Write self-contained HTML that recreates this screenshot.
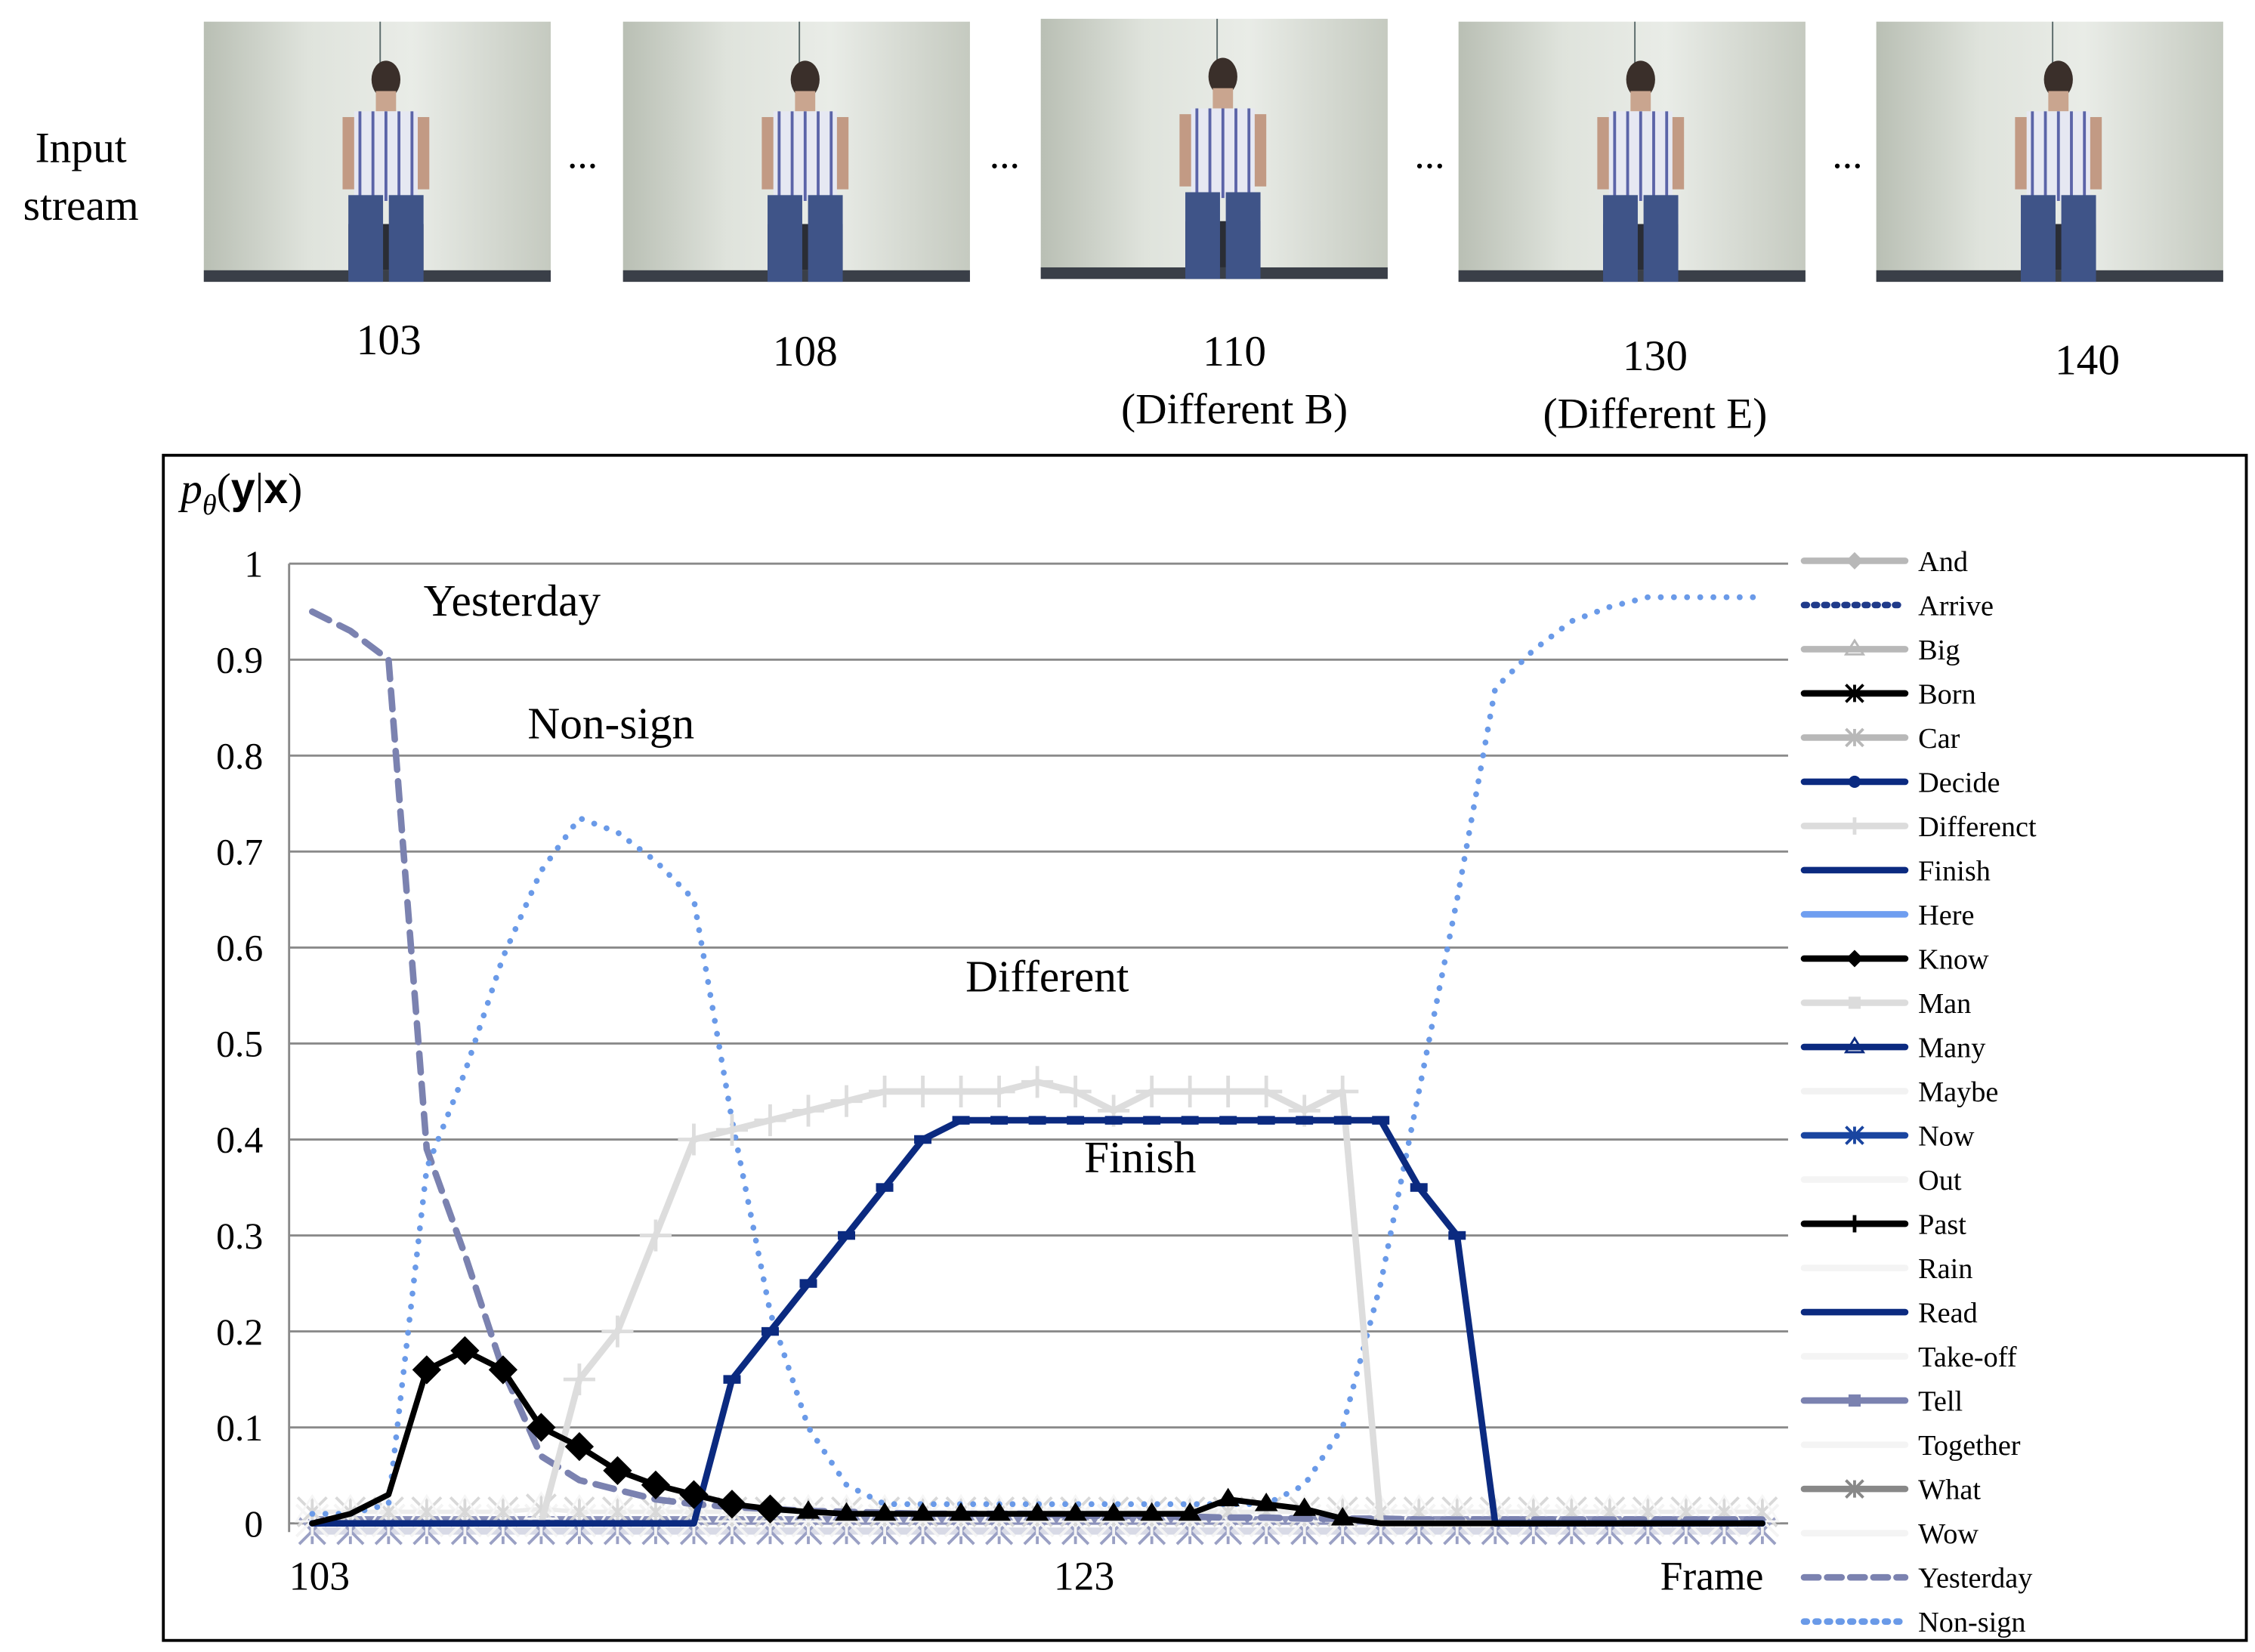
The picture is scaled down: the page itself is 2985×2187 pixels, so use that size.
<!DOCTYPE html>
<html><head><meta charset="utf-8"><style>
html,body{margin:0;padding:0;background:#fff}
svg{display:block}
text{font-family:"Liberation Serif",serif;fill:#000}
</style></head><body>
<svg id="fig" width="2985" height="2187" viewBox="0 0 1560 1143" preserveAspectRatio="none" xmlns="http://www.w3.org/2000/svg">
<defs>
<linearGradient id="wall" x1="0" x2="1" y1="0" y2="0">
<stop offset="0" stop-color="#b9bfb4"/><stop offset="0.3" stop-color="#dfe3dc"/><stop offset="0.6" stop-color="#e9ece7"/><stop offset="1" stop-color="#c5cac0"/>
</linearGradient>
</defs>
<g id="photos"></g>
<text x="56" y="112" font-size="30" text-anchor="middle">Input</text>
<text x="56" y="152" font-size="30" text-anchor="middle">stream</text>
<g font-size="30" text-anchor="middle">
<text x="269" y="245">103</text>
<text x="557" y="253">108</text>
<text x="854" y="253">110</text>
<text x="854" y="293">(Different B)</text>
<text x="1145" y="256">130</text>
<text x="1145" y="296">(Different E)</text>
<text x="1444" y="259">140</text>
</g>
<rect x="113" y="315" width="1441" height="820" fill="none" stroke="#000" stroke-width="2"/>
<g id="grid"></g>
<g id="series"></g>
<g id="legend"></g>
<text x="125" y="348" font-size="30"><tspan font-style="italic">p</tspan><tspan font-style="italic" font-size="20" dy="8">θ</tspan><tspan dy="-8">(</tspan><tspan font-family="Liberation Sans" font-weight="bold">y</tspan><tspan>|</tspan><tspan font-family="Liberation Sans" font-weight="bold">x</tspan><tspan>)</tspan></text>
<g font-size="31">
<text x="293" y="426">Yesterday</text>
<text x="365" y="511">Non-sign</text>
<text x="668" y="686">Different</text>
<text x="750" y="811">Finish</text>
</g>
<g font-size="28">
<text x="200" y="1100">103</text>
<text x="750" y="1100" text-anchor="middle">123</text>
<text x="1220" y="1100" text-anchor="end">Frame</text>
</g>
</svg>
<script>
const yTicks=[0,0.1,0.2,0.3,0.4,0.5,0.6,0.7,0.8,0.9,1];
const yTickLabels=["0","0.1","0.2","0.3","0.4","0.5","0.6","0.7","0.8","0.9","1"];
const frames=[103,104,105,106,107,108,109,110,111,112,113,114,115,116,117,118,119,120,121,122,123,124,125,126,127,128,129,130,131,132,133,134,135,136,137,138,139,140,141];
const yesterdayVals=[0.95,0.93,0.9,0.39,0.28,0.16,0.07,0.045,0.035,0.025,0.02,0.017,0.015,0.013,0.012,0.011,0.01,0.01,0.01,0.01,0.008,0.008,0.007,0.007,0.006,0.006,0.005,0.005,0.005,0.004,0.004,0.004,0.004,0.004,0.004,0.004,0.004,0.004,0.004];
const nonSignVals=[0.01,0.01,0.02,0.37,0.47,0.59,0.68,0.735,0.72,0.69,0.65,0.42,0.22,0.1,0.04,0.02,0.02,0.02,0.02,0.02,0.02,0.02,0.02,0.02,0.02,0.02,0.04,0.1,0.25,0.45,0.65,0.87,0.91,0.94,0.955,0.965,0.965,0.965,0.965];
const differentVals=[0,0,0,0,0,0,0,0.15,0.2,0.3,0.4,0.41,0.42,0.43,0.44,0.45,0.45,0.45,0.45,0.46,0.45,0.43,0.45,0.45,0.45,0.45,0.43,0.45,0,0,0,0,0,0,0,0,0,0,0];
const finishVals=[0,0,0,0,0,0,0,0,0,0,0,0.15,0.2,0.25,0.3,0.35,0.4,0.42,0.42,0.42,0.42,0.42,0.42,0.42,0.42,0.42,0.42,0.42,0.42,0.35,0.3,0,0,0,0,0,0,0,0];
const knowVals=[0,0.01,0.03,0.16,0.18,0.16,0.1,0.08,0.055,0.04,0.03,0.02,0.015,0.012,0.01,0.01,0.01,0.01,0.01,0.01,0.01,0.01,0.01,0.01,0.025,0.02,0.015,0.005,0,0,0,0,0,0,0,0,0,0,0];
const tellVals=[0.003,0.003,0.003,0.003,0.003,0.003,0.003,0.003,0.003,0.003,0.003,0.003,0.003,0.003,0.003,0.003,0.003,0.003,0.003,0.003,0.003,0.003,0.003,0.003,0.003,0.003,0.003,0.003,0.003,0.003,0.003,0.003,0.003,0.003,0.003,0.003,0.003,0.003,0.003];
const carVals=[0.012,0.012,0.012,0.012,0.012,0.012,0.015,0.012,0.012,0.012,0.012,0.012,0.012,0.012,0.012,0.012,0.012,0.012,0.012,0.012,0.012,0.012,0.012,0.012,0.012,0.012,0.012,0.012,0.012,0.012,0.012,0.012,0.012,0.012,0.012,0.012,0.012,0.012,0.012];
const maybeVals=[-0.008,-0.008,-0.008,-0.008,-0.008,-0.008,-0.008,-0.008,-0.008,-0.008,-0.008,-0.008,-0.008,-0.008,-0.008,-0.008,-0.008,-0.008,-0.008,-0.008,-0.008,-0.008,-0.008,-0.008,-0.008,-0.008,-0.008,-0.008,-0.008,-0.008,-0.008,-0.008,-0.008,-0.008,-0.008,-0.008,-0.008,-0.008,-0.008];
const legendLabels=["And","Arrive","Big","Born","Car","Decide","Differenct","Finish","Here","Know","Man","Many","Maybe","Now","Out","Past","Rain","Read","Take-off","Tell","Together","What","Wow","Yesterday","Non-sign"];
const legendColors=["#b8b8b8","#1f3a8a","#b8b8b8","#000","#b8b8b8","#0b2a80","#dcdcdc","#0b2a80","#6f9ef0","#000","#dcdcdc","#0b2a80","#f2f2f2","#1a45a0","#f4f4f4","#000","#f4f4f4","#0b2a80","#f4f4f4","#7b82b0","#f4f4f4","#888","#f4f4f4","#7b82b0","#6a9ae8"];
const legendDash=["","2,5","","","","","","","","","","","","","","","","","","","","","","10,6","2,6"];
const legendMarker=["diamond","","tri","x","x","circle","plus","","","diamond","square","tri","","x","","plus","","","","square","","x","","",""];

const NS="http://www.w3.org/2000/svg";
const X0=216,DX=26.4,Y0=1054,Y1=390;
function xs(i){return X0+DX*i;}
function ys(v){return Y0-(Y0-Y1)*v;}
function mk(tag,attrs,parent){const e=document.createElementNS(NS,tag);for(const k in attrs)e.setAttribute(k,attrs[k]);parent.appendChild(e);return e;}

const photos=document.getElementById('photos');
const px=[141,431,720,1009,1298],py=[15,15,13,15,15];
px.forEach((x,k)=>{
  const g=mk('g',{},photos);
  
  
  const y=py[k];
  mk('rect',{x:x,y:y,width:240,height:180,fill:'url(#wall)'},g);
  mk('line',{x1:x+122,y1:y,x2:x+122,y2:y+30,stroke:'#5a6a6a','stroke-width':1},g);
  mk('rect',{x:x,y:y+172,width:240,height:8,fill:'#3a3f48'},g);
  mk('rect',{x:x+100,y:y+140,width:52,height:32,fill:'#2a2d35'},g);
  mk('ellipse',{cx:x+126,cy:y+40,rx:10,ry:13,fill:'#3a2f2a'},g);
  mk('rect',{x:x+119,y:y+48,width:14,height:14,fill:'#c9a58f'},g);
  mk('rect',{x:x+104,y:y+62,width:44,height:62,fill:'#e6e8f2'},g);
  for(let s=0;s<5;s++)mk('line',{x1:x+108+s*9,y1:y+62,x2:x+108+s*9,y2:y+124,stroke:'#5b64a8','stroke-width':2},g);
  mk('rect',{x:x+100,y:y+120,width:24,height:60,fill:'#3f5488'},g);
  mk('rect',{x:x+128,y:y+120,width:24,height:60,fill:'#3f5488'},g);
  mk('rect',{x:x+96,y:y+66,width:8,height:50,fill:'#c29a84'},g);
  mk('rect',{x:x+148,y:y+66,width:8,height:50,fill:'#c29a84'},g);
});
[403,695,989,1278].forEach(x=>{
  const t=mk('text',{x:x,y:116,'font-size':28,'text-anchor':'middle'},photos);
  t.textContent='...';
  
  
});

const grid=document.getElementById('grid');
yTicks.forEach((v,i)=>{
  const l=mk('line',{x1:200,x2:1237,y1:ys(v),y2:ys(v),stroke:'#8a8a8a','stroke-width':1.5},grid);
  
  
  const t=mk('text',{x:182,y:ys(v)+9,'font-size':26,'text-anchor':'end'},grid);
  t.textContent=yTickLabels[i];
  
  
});
mk('line',{x1:200,x2:200,y1:ys(1),y2:ys(0)+6,stroke:'#8a8a8a','stroke-width':1.5},grid);

const series=document.getElementById('series');
function pts(vals){return vals.map((v,i)=>xs(i).toFixed(1)+','+ys(v).toFixed(1)).join(' ');}
function line(vals,color,w,dash,name){
  const p=mk('polyline',{points:pts(vals),fill:'none',stroke:color,'stroke-width':w,'stroke-linejoin':'round','stroke-linecap':'round'},series);
  if(dash)p.setAttribute('stroke-dasharray',dash);
  
  
  return p;
}
function drawMarker(parent,kind,x,y,size,color){
  let m;
  if(kind==='diamond')m=mk('polygon',{points:`${x},${y-size} ${x+size},${y} ${x},${y+size} ${x-size},${y}`,fill:color},parent);
  else if(kind==='plus')m=mk('path',{d:`M${x-size},${y}H${x+size}M${x},${y-size}V${y+size}`,stroke:color,'stroke-width':2.5,fill:'none'},parent);
  else if(kind==='dash')m=mk('rect',{x:x-6,y:y-3,width:12,height:6,fill:color},parent);
  else if(kind==='square')m=mk('rect',{x:x-size*0.7,y:y-size*0.7,width:size*1.4,height:size*1.4,fill:color},parent);
  else if(kind==='circle')m=mk('circle',{cx:x,cy:y,r:size*0.7,fill:color},parent);
  else if(kind==='x')m=mk('path',{d:`M${x-size},${y-size}L${x+size},${y+size}M${x+size},${y-size}L${x-size},${y+size}M${x},${y-size}V${y+size}`,stroke:color,'stroke-width':2,fill:'none'},parent);
  else if(kind==='tri')m=mk('polygon',{points:`${x},${y-size} ${x+size},${y+size*0.6} ${x-size},${y+size*0.6}`,fill:'none',stroke:color,'stroke-width':1.5},parent);
  else if(kind==='ftri')m=mk('polygon',{points:`${x},${y-size} ${x+size},${y+size*0.6} ${x-size},${y+size*0.6}`,fill:color},parent);
  return m;
}
function markers(vals,kind,color,size,name,from,to){
  vals.forEach((v,i)=>{
    if(from!==undefined&&(i<from||i>to))return;
    const m=drawMarker(series,kind,xs(i),ys(v),size,color);
    
    
  });
}
line(maybeVals,'#d8dae6',5,'','maybe-line');
markers(maybeVals,'x','#9aa0c4',9,'man');
line(tellVals,'#8b91ba',6,'','tell-line');
markers(tellVals,'x','#f4f4f4',11,'tell');
line(carVals,'#ececec',3,'','car-line');
markers(carVals,'x','#d8d8d8',10,'car');
markers(carVals,'tri','#f6f6f6',11,'maybe');
line(yesterdayVals,'#7b82b0',4.5,'13,8','yesterday-line');
line(nonSignVals,'#6a9ae8',4,'0.1,9','non-sign-line');
line(differentVals,'#dddddd',4.5,'','different-line');
markers(differentVals,'plus','#dddddd',11,'different',7,27);
line(finishVals,'#0b2a80',4.5,'','finish-line');
markers(finishVals,'dash','#0b2a80',6,'finish',11,30);
line(knowVals,'#000000',4,'','know-line');
markers(knowVals,'diamond','#000',10,'know',3,12);
markers(knowVals,'ftri','#000',8,'know-small',13,27);

const legend=document.getElementById('legend');
legendLabels.forEach((lab,i)=>{
  const y=388+i*30.58;
  const g=mk('g',{},legend);
  
  
  const l=mk('line',{x1:1248,x2:1318,y1:y,y2:y,stroke:legendColors[i],'stroke-width':4.5,'stroke-linecap':'round'},g);
  if(legendDash[i])l.setAttribute('stroke-dasharray',legendDash[i]);
  if(legendMarker[i])drawMarker(g,legendMarker[i],1283,y,6,legendColors[i]);
  const t=mk('text',{x:1327,y:y+7,'font-size':20},g);
  t.textContent=lab;
});
</script>
</body></html>
